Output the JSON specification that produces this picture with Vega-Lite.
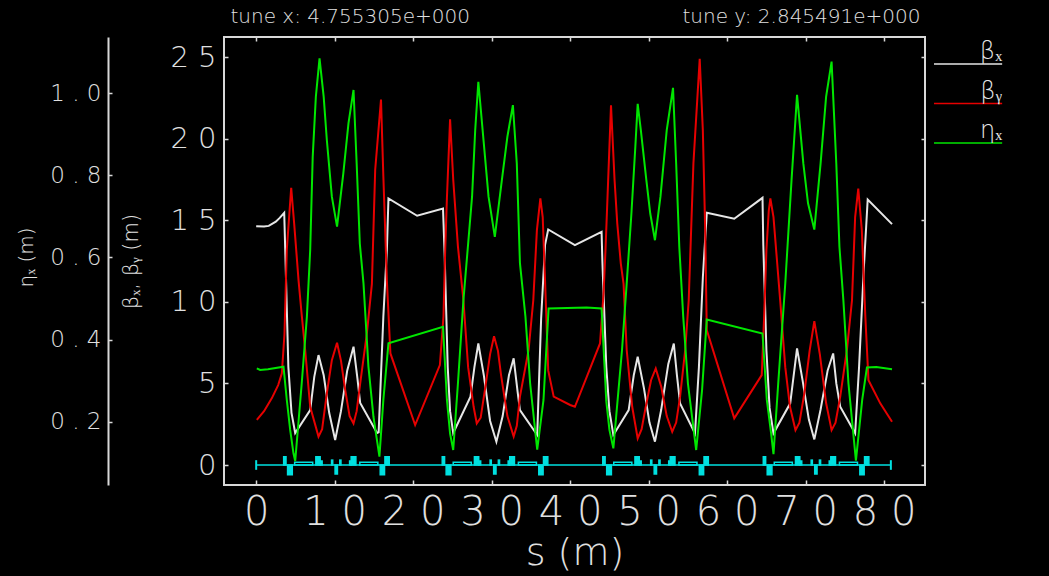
{
  "$schema": "https://vega.github.io/schema/vega-lite/v6.json",
  "width": 701,
  "height": 448,
  "autosize": {"type": "none"},
  "padding": {"left": 224, "top": 37, "right": 124, "bottom": 91},
  "background": "#000000",
  "config": {
    "view": {"stroke": "#d8d8d8", "strokeWidth": 2},
    "axis": {
      "grid": false,
      "labelColor": "#e0e0e0",
      "titleColor": "#e0e0e0",
      "tickColor": "#d8d8d8",
      "domainColor": "#d8d8d8",
      "labelFont": "DejaVu Sans",
      "titleFont": "DejaVu Sans",
      "labelFontWeight": 200,
      "titleFontWeight": 200,
      "labelOverlap": false,
      "labelFlush": false,
      "tickWidth": 1.5,
      "domainWidth": 2
    },
    "legend": {
      "orient": "none",
      "legendX": 709,
      "legendY": 13,
      "padding": 0,
      "title": null,
      "symbolType": "stroke",
      "symbolSize": 13456,
      "symbolStrokeWidth": 1.5,
      "clipHeight": 28,
      "rowPadding": 1.5,
      "labelAlign": "center",
      "labelOffset": -60,
      "labelBaseline": "bottom",
      "labelColor": "#e8e8e8",
      "labelFont": "DejaVu Sans",
      "labelFontWeight": 200,
      "labelFontSize": 24
    }
  },
  "datasets": {
    "beamline": [{"a": 0, "b": 80.85}],
    "lattice": [
      {"a": -0.03, "b": 0.03, "lo": -0.25, "hi": 0.25, "kind": "M"},
      {"a": 80.82, "b": 80.88, "lo": -0.25, "hi": 0.25, "kind": "M"},
      {"a": 3.5, "b": 3.8, "lo": 0, "hi": 0.5, "kind": "F"},
      {"a": 4.0, "b": 4.6, "lo": -0.6, "hi": 0, "kind": "D"},
      {"a": 4.9, "b": 7.2, "lo": 0, "hi": 0.17, "kind": "B"},
      {"a": 7.6, "b": 8.15, "lo": 0, "hi": 0.5, "kind": "F"},
      {"a": 8.15, "b": 8.4, "lo": 0, "hi": 0.25, "kind": "S"},
      {"a": 9.6, "b": 9.75, "lo": 0, "hi": 0.3, "kind": "S"},
      {"a": 10.05, "b": 10.35, "lo": -0.55, "hi": 0, "kind": "D"},
      {"a": 10.65, "b": 10.8, "lo": 0, "hi": 0.3, "kind": "S"},
      {"a": 11.9, "b": 12.1, "lo": 0, "hi": 0.25, "kind": "S"},
      {"a": 12.1, "b": 12.7, "lo": 0, "hi": 0.5, "kind": "F"},
      {"a": 13.2, "b": 15.5, "lo": 0, "hi": 0.17, "kind": "B"},
      {"a": 15.8, "b": 16.35, "lo": -0.6, "hi": 0, "kind": "D"},
      {"a": 16.4, "b": 16.95, "lo": 0, "hi": 0.5, "kind": "F"},
      {"a": 23.7, "b": 24.0, "lo": 0, "hi": 0.5, "kind": "F"},
      {"a": 24.2, "b": 24.8, "lo": -0.6, "hi": 0, "kind": "D"},
      {"a": 25.1, "b": 27.4, "lo": 0, "hi": 0.17, "kind": "B"},
      {"a": 27.8, "b": 28.35, "lo": 0, "hi": 0.5, "kind": "F"},
      {"a": 28.35, "b": 28.6, "lo": 0, "hi": 0.25, "kind": "S"},
      {"a": 29.8, "b": 29.95, "lo": 0, "hi": 0.3, "kind": "S"},
      {"a": 30.25, "b": 30.55, "lo": -0.55, "hi": 0, "kind": "D"},
      {"a": 30.85, "b": 31.0, "lo": 0, "hi": 0.3, "kind": "S"},
      {"a": 32.1, "b": 32.3, "lo": 0, "hi": 0.25, "kind": "S"},
      {"a": 32.3, "b": 32.9, "lo": 0, "hi": 0.5, "kind": "F"},
      {"a": 33.4, "b": 35.7, "lo": 0, "hi": 0.17, "kind": "B"},
      {"a": 36.0, "b": 36.55, "lo": -0.6, "hi": 0, "kind": "D"},
      {"a": 36.6, "b": 37.15, "lo": 0, "hi": 0.5, "kind": "F"},
      {"a": 44.15, "b": 44.45, "lo": 0, "hi": 0.5, "kind": "F"},
      {"a": 44.65, "b": 45.25, "lo": -0.6, "hi": 0, "kind": "D"},
      {"a": 45.55, "b": 47.85, "lo": 0, "hi": 0.17, "kind": "B"},
      {"a": 48.25, "b": 48.8, "lo": 0, "hi": 0.5, "kind": "F"},
      {"a": 48.8, "b": 49.05, "lo": 0, "hi": 0.25, "kind": "S"},
      {"a": 50.25, "b": 50.4, "lo": 0, "hi": 0.3, "kind": "S"},
      {"a": 50.7, "b": 51.0, "lo": -0.55, "hi": 0, "kind": "D"},
      {"a": 51.3, "b": 51.45, "lo": 0, "hi": 0.3, "kind": "S"},
      {"a": 52.55, "b": 52.75, "lo": 0, "hi": 0.25, "kind": "S"},
      {"a": 52.75, "b": 53.35, "lo": 0, "hi": 0.5, "kind": "F"},
      {"a": 53.85, "b": 56.15, "lo": 0, "hi": 0.17, "kind": "B"},
      {"a": 56.45, "b": 57.0, "lo": -0.6, "hi": 0, "kind": "D"},
      {"a": 57.05, "b": 57.6, "lo": 0, "hi": 0.5, "kind": "F"},
      {"a": 64.6, "b": 64.9, "lo": 0, "hi": 0.5, "kind": "F"},
      {"a": 65.1, "b": 65.7, "lo": -0.6, "hi": 0, "kind": "D"},
      {"a": 66.0, "b": 68.3, "lo": 0, "hi": 0.17, "kind": "B"},
      {"a": 68.7, "b": 69.25, "lo": 0, "hi": 0.5, "kind": "F"},
      {"a": 69.25, "b": 69.5, "lo": 0, "hi": 0.25, "kind": "S"},
      {"a": 70.7, "b": 70.85, "lo": 0, "hi": 0.3, "kind": "S"},
      {"a": 71.15, "b": 71.45, "lo": -0.55, "hi": 0, "kind": "D"},
      {"a": 71.75, "b": 71.9, "lo": 0, "hi": 0.3, "kind": "S"},
      {"a": 73.0, "b": 73.2, "lo": 0, "hi": 0.25, "kind": "S"},
      {"a": 73.2, "b": 73.8, "lo": 0, "hi": 0.5, "kind": "F"},
      {"a": 74.3, "b": 76.6, "lo": 0, "hi": 0.17, "kind": "B"},
      {"a": 76.9, "b": 77.45, "lo": -0.6, "hi": 0, "kind": "D"},
      {"a": 77.5, "b": 78.05, "lo": 0, "hi": 0.5, "kind": "F"}
    ],
    "betas": [
      {"s": 0, "v": 14.64, "k": "βₓ"}, {"s": 1.0, "v": 14.62, "k": "βₓ"}, {"s": 1.6, "v": 14.66, "k": "βₓ"},
      {"s": 2.5, "v": 14.92, "k": "βₓ"}, {"s": 3.0, "v": 15.15, "k": "βₓ"}, {"s": 3.57, "v": 15.46, "k": "βₓ"},
      {"s": 3.7, "v": 13.2, "k": "βₓ"}, {"s": 4.1, "v": 6.0, "k": "βₓ"}, {"s": 4.5, "v": 3.2, "k": "βₓ"},
      {"s": 4.97, "v": 1.96, "k": "βₓ"}, {"s": 6.88, "v": 3.37, "k": "βₓ"}, {"s": 7.4, "v": 5.4, "k": "βₓ"},
      {"s": 7.94, "v": 6.74, "k": "βₓ"}, {"s": 8.6, "v": 5.5, "k": "βₓ"}, {"s": 9.3, "v": 3.2, "k": "βₓ"},
      {"s": 10.06, "v": 1.53, "k": "βₓ"}, {"s": 10.8, "v": 3.3, "k": "βₓ"}, {"s": 11.6, "v": 5.8, "k": "βₓ"},
      {"s": 12.4, "v": 7.25, "k": "βₓ"}, {"s": 12.9, "v": 5.3, "k": "βₓ"}, {"s": 13.25, "v": 3.8, "k": "βₓ"},
      {"s": 15.4, "v": 1.96, "k": "βₓ"}, {"s": 15.6, "v": 2.0, "k": "βₓ"}, {"s": 16.2, "v": 9.1, "k": "βₓ"},
      {"s": 16.65, "v": 13.2, "k": "βₓ"}, {"s": 16.85, "v": 16.34, "k": "βₓ"}, {"s": 20.5, "v": 15.28, "k": "βₓ"},
      {"s": 23.8, "v": 15.72, "k": "βₓ"}, {"s": 24.0, "v": 13.0, "k": "βₓ"}, {"s": 24.4, "v": 6.0, "k": "βₓ"},
      {"s": 24.7, "v": 3.3, "k": "βₓ"}, {"s": 25.1, "v": 1.96, "k": "βₓ"}, {"s": 27.3, "v": 4.19, "k": "βₓ"},
      {"s": 27.8, "v": 6.0, "k": "βₓ"}, {"s": 28.3, "v": 7.45, "k": "βₓ"}, {"s": 29.0, "v": 5.5, "k": "βₓ"},
      {"s": 29.8, "v": 2.7, "k": "βₓ"}, {"s": 30.6, "v": 1.43, "k": "βₓ"}, {"s": 31.4, "v": 3.0, "k": "βₓ"},
      {"s": 32.2, "v": 5.5, "k": "βₓ"}, {"s": 32.8, "v": 6.54, "k": "βₓ"}, {"s": 33.3, "v": 4.5, "k": "βₓ"},
      {"s": 33.6, "v": 3.37, "k": "βₓ"}, {"s": 35.8, "v": 1.84, "k": "βₓ"}, {"s": 36.3, "v": 9.0, "k": "βₓ"},
      {"s": 36.8, "v": 13.5, "k": "βₓ"}, {"s": 37.2, "v": 14.44, "k": "βₓ"}, {"s": 40.6, "v": 13.48, "k": "βₓ"},
      {"s": 44.0, "v": 14.3, "k": "βₓ"}, {"s": 44.1, "v": 12.5, "k": "βₓ"}, {"s": 44.6, "v": 6.0, "k": "βₓ"},
      {"s": 45.0, "v": 3.3, "k": "βₓ"}, {"s": 45.5, "v": 1.84, "k": "βₓ"}, {"s": 47.45, "v": 3.37, "k": "βₓ"},
      {"s": 48.1, "v": 5.5, "k": "βₓ"}, {"s": 48.6, "v": 6.64, "k": "βₓ"}, {"s": 49.4, "v": 4.7, "k": "βₓ"},
      {"s": 50.1, "v": 2.6, "k": "βₓ"}, {"s": 50.8, "v": 1.43, "k": "βₓ"}, {"s": 51.6, "v": 3.4, "k": "βₓ"},
      {"s": 52.5, "v": 6.2, "k": "βₓ"}, {"s": 53.2, "v": 7.45, "k": "βₓ"}, {"s": 53.6, "v": 5.5, "k": "βₓ"},
      {"s": 54.0, "v": 3.78, "k": "βₓ"}, {"s": 55.9, "v": 1.94, "k": "βₓ"}, {"s": 56.4, "v": 6.0, "k": "βₓ"},
      {"s": 56.9, "v": 11.5, "k": "βₓ"}, {"s": 57.4, "v": 15.46, "k": "βₓ"}, {"s": 60.9, "v": 15.1, "k": "βₓ"},
      {"s": 64.5, "v": 16.38, "k": "βₓ"}, {"s": 64.6, "v": 13.5, "k": "βₓ"}, {"s": 65.0, "v": 7.0, "k": "βₓ"},
      {"s": 65.4, "v": 3.5, "k": "βₓ"}, {"s": 65.9, "v": 1.94, "k": "βₓ"}, {"s": 68.03, "v": 3.78, "k": "βₓ"},
      {"s": 68.5, "v": 5.6, "k": "βₓ"}, {"s": 68.9, "v": 7.15, "k": "βₓ"}, {"s": 69.6, "v": 5.2, "k": "βₓ"},
      {"s": 70.4, "v": 2.8, "k": "βₓ"}, {"s": 71.1, "v": 1.57, "k": "βₓ"}, {"s": 71.9, "v": 3.4, "k": "βₓ"},
      {"s": 72.8, "v": 5.8, "k": "βₓ"}, {"s": 73.5, "v": 6.84, "k": "βₓ"}, {"s": 73.9, "v": 5.0, "k": "βₓ"},
      {"s": 74.4, "v": 3.57, "k": "βₓ"}, {"s": 76.3, "v": 1.94, "k": "βₓ"}, {"s": 76.8, "v": 6.0, "k": "βₓ"},
      {"s": 77.4, "v": 12.0, "k": "βₓ"}, {"s": 77.9, "v": 16.28, "k": "βₓ"}, {"s": 81.0, "v": 14.77, "k": "βₓ"},

      {"s": 0.08, "v": 2.76, "k": "βᵧ"}, {"s": 1.0, "v": 3.3, "k": "βᵧ"}, {"s": 2.0, "v": 4.1, "k": "βᵧ"},
      {"s": 2.8, "v": 4.9, "k": "βᵧ"}, {"s": 3.27, "v": 5.62, "k": "βᵧ"}, {"s": 3.6, "v": 8.0, "k": "βᵧ"},
      {"s": 3.9, "v": 13.2, "k": "βᵧ"}, {"s": 4.46, "v": 17.0, "k": "βᵧ"}, {"s": 4.84, "v": 14.8, "k": "βᵧ"},
      {"s": 5.4, "v": 11.3, "k": "βᵧ"}, {"s": 5.8, "v": 9.2, "k": "βᵧ"}, {"s": 6.24, "v": 7.05, "k": "βᵧ"},
      {"s": 6.88, "v": 3.57, "k": "βᵧ"}, {"s": 7.94, "v": 1.74, "k": "βᵧ"}, {"s": 8.4, "v": 2.2, "k": "βᵧ"},
      {"s": 9.0, "v": 4.39, "k": "βᵧ"}, {"s": 9.64, "v": 6.43, "k": "βᵧ"}, {"s": 10.3, "v": 7.5, "k": "βᵧ"},
      {"s": 10.8, "v": 6.4, "k": "βᵧ"}, {"s": 11.34, "v": 4.6, "k": "βᵧ"}, {"s": 11.9, "v": 3.0, "k": "βᵧ"},
      {"s": 12.4, "v": 2.55, "k": "βᵧ"}, {"s": 12.8, "v": 3.3, "k": "βᵧ"}, {"s": 13.25, "v": 5.0, "k": "βᵧ"},
      {"s": 14.1, "v": 8.07, "k": "βᵧ"}, {"s": 14.74, "v": 11.1, "k": "βᵧ"}, {"s": 15.16, "v": 18.1, "k": "βᵧ"},
      {"s": 15.9, "v": 22.4, "k": "βᵧ"}, {"s": 16.2, "v": 17.7, "k": "βᵧ"}, {"s": 16.65, "v": 11.3, "k": "βᵧ"},
      {"s": 17.1, "v": 6.84, "k": "βᵧ"}, {"s": 20.25, "v": 2.45, "k": "βᵧ"}, {"s": 23.4, "v": 6.13, "k": "βᵧ"},
      {"s": 23.86, "v": 9.1, "k": "βᵧ"}, {"s": 24.08, "v": 13.2, "k": "βᵧ"}, {"s": 24.3, "v": 16.4, "k": "βᵧ"},
      {"s": 24.7, "v": 21.2, "k": "βᵧ"}, {"s": 25.1, "v": 17.5, "k": "βᵧ"}, {"s": 25.7, "v": 13.4, "k": "βᵧ"},
      {"s": 26.4, "v": 10.1, "k": "βᵧ"}, {"s": 27.0, "v": 6.0, "k": "βᵧ"}, {"s": 27.7, "v": 3.57, "k": "βᵧ"},
      {"s": 28.1, "v": 2.55, "k": "βᵧ"}, {"s": 28.6, "v": 2.9, "k": "βᵧ"}, {"s": 29.2, "v": 4.8, "k": "βᵧ"},
      {"s": 29.8, "v": 6.8, "k": "βᵧ"}, {"s": 30.3, "v": 7.9, "k": "βᵧ"}, {"s": 30.8, "v": 7.0, "k": "βᵧ"},
      {"s": 31.2, "v": 5.5, "k": "βᵧ"}, {"s": 32.0, "v": 3.0, "k": "βᵧ"}, {"s": 32.8, "v": 1.74, "k": "βᵧ"},
      {"s": 33.2, "v": 2.4, "k": "βᵧ"}, {"s": 33.6, "v": 4.19, "k": "βᵧ"}, {"s": 34.7, "v": 7.05, "k": "βᵧ"},
      {"s": 35.3, "v": 10.1, "k": "βᵧ"}, {"s": 35.76, "v": 14.4, "k": "βᵧ"}, {"s": 36.2, "v": 16.34, "k": "βᵧ"},
      {"s": 36.5, "v": 15.2, "k": "βᵧ"}, {"s": 36.8, "v": 11.3, "k": "βᵧ"}, {"s": 37.2, "v": 5.8, "k": "βᵧ"},
      {"s": 37.9, "v": 4.19, "k": "βᵧ"}, {"s": 40.0, "v": 3.68, "k": "βᵧ"}, {"s": 40.6, "v": 3.57, "k": "βᵧ"},
      {"s": 43.8, "v": 7.45, "k": "βᵧ"}, {"s": 44.25, "v": 10.5, "k": "βᵧ"}, {"s": 44.5, "v": 13.2, "k": "βᵧ"},
      {"s": 45.2, "v": 22.06, "k": "βᵧ"}, {"s": 45.65, "v": 17.5, "k": "βᵧ"}, {"s": 46.0, "v": 14.8, "k": "βᵧ"},
      {"s": 46.45, "v": 12.35, "k": "βᵧ"}, {"s": 46.8, "v": 11.1, "k": "βᵧ"}, {"s": 47.2, "v": 7.05, "k": "βᵧ"},
      {"s": 47.9, "v": 3.57, "k": "βᵧ"}, {"s": 48.6, "v": 1.63, "k": "βᵧ"}, {"s": 49.1, "v": 2.2, "k": "βᵧ"},
      {"s": 49.6, "v": 3.5, "k": "βᵧ"}, {"s": 50.3, "v": 5.2, "k": "βᵧ"}, {"s": 50.9, "v": 5.92, "k": "βᵧ"},
      {"s": 51.6, "v": 4.8, "k": "βᵧ"}, {"s": 52.3, "v": 3.0, "k": "βᵧ"}, {"s": 53.0, "v": 2.04, "k": "βᵧ"},
      {"s": 53.5, "v": 2.6, "k": "βᵧ"}, {"s": 54.0, "v": 4.19, "k": "βᵧ"}, {"s": 54.65, "v": 7.05, "k": "βᵧ"},
      {"s": 55.1, "v": 10.1, "k": "βᵧ"}, {"s": 55.7, "v": 18.5, "k": "βᵧ"}, {"s": 56.5, "v": 24.9, "k": "βᵧ"},
      {"s": 56.9, "v": 20.5, "k": "βᵧ"}, {"s": 57.2, "v": 14.4, "k": "βᵧ"}, {"s": 57.4, "v": 8.27, "k": "βᵧ"},
      {"s": 60.9, "v": 2.86, "k": "βᵧ"}, {"s": 64.4, "v": 5.51, "k": "βᵧ"}, {"s": 64.7, "v": 9.0, "k": "βᵧ"},
      {"s": 65.0, "v": 13.2, "k": "βᵧ"}, {"s": 65.3, "v": 15.6, "k": "βᵧ"}, {"s": 65.5, "v": 16.34, "k": "βᵧ"},
      {"s": 65.9, "v": 15.2, "k": "βᵧ"}, {"s": 66.3, "v": 12.8, "k": "βᵧ"}, {"s": 66.75, "v": 10.1, "k": "βᵧ"},
      {"s": 67.4, "v": 6.0, "k": "βᵧ"}, {"s": 68.0, "v": 3.57, "k": "βᵧ"}, {"s": 68.7, "v": 2.14, "k": "βᵧ"},
      {"s": 69.2, "v": 2.6, "k": "βᵧ"}, {"s": 69.8, "v": 4.3, "k": "βᵧ"}, {"s": 70.5, "v": 7.0, "k": "βᵧ"},
      {"s": 71.1, "v": 8.82, "k": "βᵧ"}, {"s": 71.8, "v": 6.8, "k": "βᵧ"}, {"s": 72.6, "v": 3.8, "k": "βᵧ"},
      {"s": 73.3, "v": 2.14, "k": "βᵧ"}, {"s": 73.8, "v": 2.6, "k": "βᵧ"}, {"s": 74.4, "v": 4.19, "k": "βᵧ"},
      {"s": 75.25, "v": 7.05, "k": "βᵧ"}, {"s": 75.9, "v": 10.1, "k": "βᵧ"}, {"s": 76.3, "v": 15.2, "k": "βᵧ"},
      {"s": 76.7, "v": 16.95, "k": "βᵧ"}, {"s": 77.15, "v": 14.4, "k": "βᵧ"}, {"s": 77.6, "v": 9.1, "k": "βᵧ"},
      {"s": 78.0, "v": 5.2, "k": "βᵧ"}, {"s": 79.5, "v": 3.78, "k": "βᵧ"}, {"s": 81.0, "v": 2.65, "k": "βᵧ"}
    ],
    "eta": [
      {"s": 0.08, "v": 0.33, "k": "ηₓ"}, {"s": 0.5, "v": 0.326, "k": "ηₓ"}, {"s": 1.5, "v": 0.328, "k": "ηₓ"},
      {"s": 3.48, "v": 0.334, "k": "ηₓ"}, {"s": 3.9, "v": 0.253, "k": "ηₓ"}, {"s": 4.33, "v": 0.18, "k": "ηₓ"},
      {"s": 4.75, "v": 0.123, "k": "ηₓ"}, {"s": 4.97, "v": 0.104, "k": "ηₓ"}, {"s": 5.8, "v": 0.293, "k": "ηₓ"},
      {"s": 6.46, "v": 0.456, "k": "ηₓ"}, {"s": 6.88, "v": 0.618, "k": "ηₓ"}, {"s": 7.2, "v": 0.845, "k": "ηₓ"},
      {"s": 7.6, "v": 0.991, "k": "ηₓ"}, {"s": 8.07, "v": 1.085, "k": "ηₓ"}, {"s": 8.6, "v": 0.991, "k": "ηₓ"},
      {"s": 9.0, "v": 0.886, "k": "ηₓ"}, {"s": 9.64, "v": 0.748, "k": "ηₓ"}, {"s": 10.3, "v": 0.675, "k": "ηₓ"},
      {"s": 11.1, "v": 0.805, "k": "ηₓ"}, {"s": 11.76, "v": 0.927, "k": "ηₓ"}, {"s": 12.4, "v": 1.008, "k": "ηₓ"},
      {"s": 12.8, "v": 0.829, "k": "ηₓ"}, {"s": 13.2, "v": 0.634, "k": "ηₓ"}, {"s": 13.67, "v": 0.537, "k": "ηₓ"},
      {"s": 14.3, "v": 0.334, "k": "ηₓ"}, {"s": 14.94, "v": 0.212, "k": "ηₓ"}, {"s": 15.7, "v": 0.115, "k": "ηₓ"},
      {"s": 16.2, "v": 0.253, "k": "ηₓ"}, {"s": 16.85, "v": 0.391, "k": "ηₓ"}, {"s": 23.8, "v": 0.431, "k": "ηₓ"},
      {"s": 24.3, "v": 0.253, "k": "ηₓ"}, {"s": 24.7, "v": 0.171, "k": "ηₓ"}, {"s": 25.1, "v": 0.131, "k": "ηₓ"},
      {"s": 25.7, "v": 0.293, "k": "ηₓ"}, {"s": 26.4, "v": 0.496, "k": "ηₓ"}, {"s": 27.5, "v": 0.748, "k": "ηₓ"},
      {"s": 27.9, "v": 0.91, "k": "ηₓ"}, {"s": 28.3, "v": 1.028, "k": "ηₓ"}, {"s": 28.96, "v": 0.886, "k": "ηₓ"},
      {"s": 29.6, "v": 0.748, "k": "ηₓ"}, {"s": 30.4, "v": 0.65, "k": "ηₓ"}, {"s": 31.3, "v": 0.789, "k": "ηₓ"},
      {"s": 32.0, "v": 0.894, "k": "ηₓ"}, {"s": 32.7, "v": 0.971, "k": "ηₓ"}, {"s": 33.2, "v": 0.829, "k": "ηₓ"},
      {"s": 33.6, "v": 0.586, "k": "ηₓ"}, {"s": 34.3, "v": 0.456, "k": "ηₓ"}, {"s": 34.9, "v": 0.293, "k": "ηₓ"},
      {"s": 35.8, "v": 0.132, "k": "ηₓ"}, {"s": 36.6, "v": 0.253, "k": "ηₓ"}, {"s": 37.25, "v": 0.476, "k": "ηₓ"},
      {"s": 42.1, "v": 0.478, "k": "ηₓ"}, {"s": 44.0, "v": 0.476, "k": "ηₓ"}, {"s": 44.6, "v": 0.25, "k": "ηₓ"},
      {"s": 45.0, "v": 0.18, "k": "ηₓ"}, {"s": 45.5, "v": 0.135, "k": "ηₓ"}, {"s": 46.6, "v": 0.374, "k": "ηₓ"},
      {"s": 47.2, "v": 0.537, "k": "ηₓ"}, {"s": 47.8, "v": 0.707, "k": "ηₓ"}, {"s": 48.3, "v": 0.87, "k": "ηₓ"},
      {"s": 48.6, "v": 0.974, "k": "ηₓ"}, {"s": 49.0, "v": 0.91, "k": "ηₓ"}, {"s": 49.7, "v": 0.789, "k": "ηₓ"},
      {"s": 50.2, "v": 0.707, "k": "ηₓ"}, {"s": 50.8, "v": 0.642, "k": "ηₓ"}, {"s": 51.5, "v": 0.748, "k": "ηₓ"},
      {"s": 52.3, "v": 0.91, "k": "ηₓ"}, {"s": 53.1, "v": 1.013, "k": "ηₓ"}, {"s": 53.5, "v": 0.829, "k": "ηₓ"},
      {"s": 53.9, "v": 0.626, "k": "ηₓ"}, {"s": 54.4, "v": 0.456, "k": "ηₓ"}, {"s": 55.0, "v": 0.293, "k": "ηₓ"},
      {"s": 56.05, "v": 0.131, "k": "ηₓ"}, {"s": 56.8, "v": 0.277, "k": "ηₓ"}, {"s": 57.4, "v": 0.449, "k": "ηₓ"},
      {"s": 64.5, "v": 0.415, "k": "ηₓ"}, {"s": 65.05, "v": 0.253, "k": "ηₓ"}, {"s": 65.6, "v": 0.171, "k": "ηₓ"},
      {"s": 65.9, "v": 0.121, "k": "ηₓ"}, {"s": 66.5, "v": 0.293, "k": "ηₓ"}, {"s": 67.4, "v": 0.537, "k": "ηₓ"},
      {"s": 68.2, "v": 0.789, "k": "ηₓ"}, {"s": 68.9, "v": 0.996, "k": "ηₓ"}, {"s": 69.7, "v": 0.829, "k": "ηₓ"},
      {"s": 70.3, "v": 0.732, "k": "ηₓ"}, {"s": 71.1, "v": 0.668, "k": "ηₓ"}, {"s": 71.9, "v": 0.829, "k": "ηₓ"},
      {"s": 72.6, "v": 0.991, "k": "ηₓ"}, {"s": 73.3, "v": 1.077, "k": "ηₓ"}, {"s": 73.9, "v": 0.829, "k": "ηₓ"},
      {"s": 74.3, "v": 0.626, "k": "ηₓ"}, {"s": 74.8, "v": 0.496, "k": "ηₓ"}, {"s": 75.45, "v": 0.293, "k": "ηₓ"},
      {"s": 76.4, "v": 0.105, "k": "ηₓ"}, {"s": 77.2, "v": 0.253, "k": "ηₓ"}, {"s": 77.8, "v": 0.332, "k": "ηₓ"},
      {"s": 79.0, "v": 0.333, "k": "ηₓ"}, {"s": 81.0, "v": 0.328, "k": "ηₓ"}
    ]
  },
  "layer": [
    {
      "data": {"name": "beamline"},
      "mark": {"type": "rule", "color": "#00e0e0", "strokeWidth": 1.5},
      "encoding": {
        "x": {"field": "a", "type": "quantitative", "scale": {"domain": [-4.1, 85.2], "nice": false, "zero": false},
              "axis": {"orient": "top", "ticks": false, "labels": false, "domain": false,
                       "title": "tune x: 4.755305e+000", "titleX": 6, "titleY": -21, "titleAlign": "left",
                       "titleBaseline": "middle", "titleAngle": 0, "titleFontSize": 20}},
        "x2": {"field": "b"},
        "y": {"datum": 0, "type": "quantitative", "scale": {"domain": [-1.226, 26.24], "nice": false, "zero": false}, "axis": null}
      }
    },
    {
      "data": {"name": "lattice"},
      "mark": {"type": "rect", "stroke": "#00e0e0", "strokeWidth": 1.5, "fill": "#00e0e0"},
      "encoding": {
        "x": {"field": "a", "type": "quantitative", "scale": {"domain": [-4.1, 85.2], "nice": false, "zero": false}, "axis": null},
        "x2": {"field": "b"},
        "y": {"field": "lo", "type": "quantitative", "scale": {"domain": [-1.226, 26.24], "nice": false, "zero": false},
              "axis": {"orient": "right", "labels": false, "domain": false, "tickSize": -4, "values": [0, 5, 10, 15, 20, 25], "title": null}},
        "y2": {"field": "hi"},
        "fillOpacity": {"condition": {"test": "datum.kind === 'B'", "value": 0}, "value": 1}
      }
    },
    {
      "data": {"name": "betas"},
      "mark": {"type": "line", "strokeWidth": 2},
      "encoding": {
        "x": {"field": "s", "type": "quantitative", "scale": {"domain": [-4.1, 85.2], "nice": false, "zero": false},
              "axis": {"orient": "bottom", "values": [0, 10, 20, 30, 40, 50, 60, 70, 80], "tickSize": -5, "domain": false,
                       "labelFontSize": 40, "labelPadding": 12, "labelExpr": "join(split(datum.label, ''), ' ')",
                       "title": "s (m)", "titleFontSize": 38, "titleY": 68, "titleBaseline": "middle"}},
        "y": {"field": "v", "type": "quantitative", "scale": {"domain": [-1.226, 26.24], "nice": false, "zero": false},
              "axis": {"orient": "left", "values": [0, 5, 10, 15, 20, 25], "tickSize": -4, "domain": false,
                       "labelFontSize": 29, "labelPadding": 12, "labelExpr": "join(split(datum.label, ''), ' ')",
                       "title": "βₓ, βᵧ (m)", "titleFontSize": 21, "titleX": -93, "titleY": 224,
                       "titleAlign": "center", "titleBaseline": "middle"}},
        "color": {"field": "k", "type": "nominal",
                  "scale": {"domain": ["βₓ", "βᵧ", "ηₓ"], "range": ["#e6e6e6", "#e60000", "#00e600"]}}
      }
    },
    {
      "data": {"name": "eta"},
      "mark": {"type": "line", "strokeWidth": 2},
      "encoding": {
        "x": {"field": "s", "type": "quantitative", "scale": {"domain": [-4.1, 85.2], "nice": false, "zero": false},
              "axis": {"orient": "top", "values": [0, 10, 20, 30, 40, 50, 60, 70, 80], "tickSize": -4, "labels": false, "domain": false,
                       "title": "tune y: 2.845491e+000", "titleX": 696, "titleY": -21, "titleAlign": "right",
                       "titleBaseline": "middle", "titleFontSize": 20}},
        "y": {"field": "v", "type": "quantitative", "scale": {"domain": [0.0458, 1.137], "nice": false, "zero": false},
              "axis": {"orient": "left", "offset": 116, "values": [0.2, 0.4, 0.6, 0.8, 1.0], "format": ".1f",
                       "tickSize": -4, "domain": true, "labelFontSize": 23, "labelPadding": 11,
                       "labelExpr": "join(split(datum.label, ''), ' ')",
                       "title": "ηₓ (m)", "titleFontSize": 20, "titleX": -82, "titleY": 220,
                       "titleAlign": "center", "titleBaseline": "middle"}},
        "color": {"field": "k", "type": "nominal"}
      }
    }
  ],
  "resolve": {"scale": {"y": "independent"}, "axis": {"x": "independent", "y": "independent"}}
}
